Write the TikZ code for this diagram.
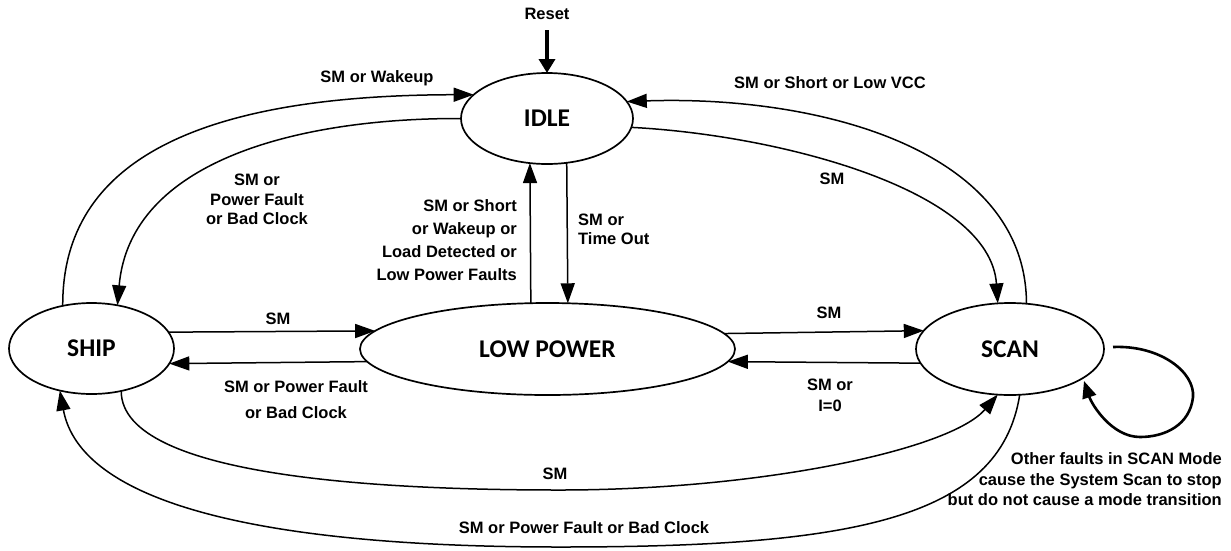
\documentclass[tikz,border=0pt]{standalone}
\usepackage{fontspec}
\setmainfont{Liberation Sans}
\newfontfamily\statefont{Carlito}
\usetikzlibrary{shapes.geometric,arrows.meta}
\begin{document}
\begin{tikzpicture}[x=1pt,y=1pt,
  state/.style={ellipse, draw, line width=1.7pt, inner sep=0pt, outer sep=0pt,
    font=\statefont\bfseries\fontsize{25.5}{30}\selectfont},
  lbl/.style={inner sep=0pt, text height=11.8pt, text depth=0pt,
    font=\bfseries\fontsize{16.5}{19.5}\selectfont},
  mlbl/.style={inner sep=0pt, font=\bfseries\fontsize{16.5}{#1}\selectfont},
  conn/.style={line width=1.5pt, -{Triangle[length=20pt,width=14pt]}},
]
\useasboundingbox (0,0) rectangle (1231,-550);

% states
\node[state, minimum width=172pt, minimum height=91pt] (idle) at (547,-118.5) {IDLE};
\node[state, minimum width=375pt, minimum height=92pt] (lp) at (547.5,-349) {LOW POWER};
\node[state, minimum width=165pt, minimum height=91pt] (ship) at (91.5,-348.5) {SHIP};
\node[state, minimum width=188pt, minimum height=92pt] (scan) at (1010,-349) {SCAN};

% reset
\node[lbl] (reset) at (547,-14) {Reset};
\coordinate (rs) at (547,-30);
\draw[line width=4.5pt, -{Triangle[length=14pt,width=16pt]}] (rs) -- (idle.north);

% IDLE <-> SHIP
\draw[conn] (ship.124.8) .. controls (62,-160) and (200,-95) .. (idle.162.7);
\draw[conn] (idle.west) .. controls (300,-118) and (130,-160) .. (ship.59.5);

% IDLE <-> SCAN
\draw[conn] (idle.-6.7) .. controls (780,-135) and (990,-190) .. (scan.105.9);
\draw[conn] (scan.70.5) .. controls (1026,-150) and (820,-95) .. (idle.12.2);

% IDLE <-> LOW POWER
\draw[conn] (lp.110.9) -- (idle.249.1);
\draw[conn] (idle.294.3) -- (lp.66.9);

% SHIP <-> LOW POWER
\draw[conn] (ship.12.9) -- (lp.174.05);
\draw[conn] (lp.184.84) -- (ship.-11.3);

% LOW POWER <-> SCAN
\draw[conn] (lp.5.95) -- (scan.168.24);
\draw[conn] (scan.189.58) -- (lp.-4.84);

% SHIP <-> SCAN (bottom)
\draw[conn] (ship.-55.2) .. controls (121,-480) and (400,-490) .. (560,-490)
  .. controls (760,-490) and (950,-450) .. (scan.255.3);
\draw[conn] (scan.282.3) .. controls (1000,-520) and (850,-547) .. (560,-547)
  .. controls (250,-547) and (80,-500) .. (ship.233.1);

% self loop on SCAN
\coordinate (la) at (1113,-347);
\coordinate (lb) at (1084,-381);
\draw[line width=2.6pt, -{Triangle[length=17pt,width=14pt]}] (la)
  .. controls (1160,-345) and (1195,-372) .. (1193,-397)
  .. controls (1190,-425) and (1165,-437) .. (1140,-437)
  .. controls (1112,-437) and (1092,-405) .. (lb);

% labels
\node[lbl] (l1) at (377,-77) {SM or Wakeup};
\node[lbl] (l2) at (830,-83) {SM or Short or Low VCC};
\node[lbl] (l3) at (832,-179) {SM};
\node[lbl] (l4) at (278,-319) {SM};
\node[lbl] (l5) at (829,-313) {SM};
\node[lbl] (l6) at (555,-474) {SM};
\node[lbl] (l7) at (584,-528) {SM or Power Fault or Bad Clock};

\node[mlbl=19.5, align=center] (m1) at (257,-199.5) {SM or\\Power Fault\\or Bad Clock};
\node[mlbl=23, align=right, anchor=east] (m2) at (517,-240.5) {SM or Short\\or Wakeup or\\Load Detected or\\Low Power Faults};
\node[mlbl=19, align=left, anchor=west] (m3) at (578,-229.5) {SM or\\Time Out};
\node[mlbl=26, align=center] (m4) at (296,-400) {SM or Power Fault\\or Bad Clock};
\node[mlbl=21, align=center] (m5) at (830,-395.5) {SM or\\I=0};
\node[mlbl=20.5, align=right, anchor=east] (m6) at (1222,-479.5) {Other faults in SCAN Mode\\cause the System Scan to stop\\but do not cause a mode transition};
\end{tikzpicture}
\end{document}
